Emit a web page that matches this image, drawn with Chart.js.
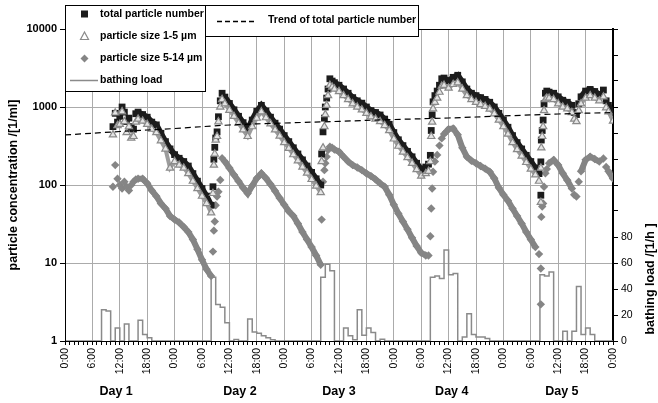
<!DOCTYPE html>
<html>
<head>
<meta charset="utf-8">
<script src="https://cdn.jsdelivr.net/npm/chart.js@4.4.1/dist/chart.umd.min.js"></script>
<style>
  html, body { margin: 0; padding: 0; background: #fff; }
  #wrap { width: 658px; height: 403px; position: relative; }
</style>
</head>
<body>
<div id="wrap"><canvas id="chart"></canvas></div>
<script>
// measurement times in hours from 0:00 of day 1
const hours = [
  10.5, 11, 11.5, 12, 12.5, 13, 13.5, 14, 14.5, 15, 15.5, 16, 17, 18, 19, 20, 21, 22, 23, 24, 25, 26, 27, 28, 29, 30, 31, 32,
  32.4, 32.6, 32.8, 33, 33.3, 33.6, 34, 34.4, 35, 36, 37, 38, 39, 40, 41, 42, 43, 44, 45, 46, 47, 48, 49, 50, 51, 52, 53, 54, 55, 56,
  56.2, 56.5, 56.8, 57, 57.3, 57.6, 58, 58.5, 59, 60, 61, 62, 63, 64, 65, 66, 67, 68, 69, 70, 71, 72, 73, 74, 75, 76, 77, 78, 79,
  79.6, 80, 80.2, 80.4, 80.6, 81, 81.5, 82, 82.5, 83, 84, 85, 86, 87, 88, 89, 90, 91, 92, 93, 94, 95, 96, 97, 98, 99, 100, 101, 102, 103, 103.8,
  104.2, 104.2, 104.3, 104.5, 104.7, 104.9, 105.2, 105.5, 106, 107, 108, 109, 110, 111, 111.5, 112, 112.5, 113, 114, 115, 116, 117, 117.9, 118.5, 119, 120
];
const totalNumber = [
  560, 830, 640, 760, 1000, 860, 650, 720, 560, 520, 820, 860, 800, 740, 640, 590, 460, 360, 290, 245, 220, 200, 175, 140, 112, 90, 72, 55,
  95, 214, 304, 400, 480, 750, 1200, 1500, 1340, 1110, 920, 760, 630, 520, 680, 880, 1050, 890, 740, 620, 520, 430, 360, 300, 250, 210, 175, 145, 120, 100,
  250, 480, 720, 1000, 1300, 1700, 2300, 2150, 2050, 1900, 1700, 1500, 1320, 1200, 1120, 1000, 900, 850, 790, 700, 600, 470, 380, 320, 270, 230, 190, 158, 170,
  185, 240, 500, 794, 1165, 1400, 1600, 1900, 2300, 2350, 2150, 2400, 2550, 2100, 1700, 1500, 1400, 1320, 1250, 1150, 1000, 830, 680, 550, 430, 350, 290, 240, 200, 165, 140,
  74, 198, 377, 500, 680, 1100, 1500, 1600, 1550, 1500, 1350, 1220, 1150, 1050, 850, 800, 1100, 1350, 1600, 1680, 1580, 1450, 1650, 1200, 1050, 800
];
const size1to5 = [
  440, 840, 580, 600, 870, 650, 470, 560, 400, 420, 640, 700, 660, 600, 520, 470, 370, 290, 165, 200, 180, 165, 140, 112, 90, 72, 58, 44,
  78, 180, 250, 377, 420, 648, 1000, 1250, 1100, 910, 760, 620, 510, 420, 560, 720, 870, 730, 610, 510, 425, 350, 295, 245, 205, 170, 142, 118, 97, 80,
  200, 300, 560, 800, 1050, 1400, 1900, 1800, 1700, 1580, 1400, 1250, 1100, 1000, 920, 830, 750, 700, 650, 580, 500, 390, 315, 265, 225, 190, 158, 130, 140,
  150, 200, 420, 640, 950, 1150, 1300, 1550, 1850, 1900, 1750, 1950, 2050, 1700, 1400, 1250, 1150, 1080, 1020, 940, 820, 680, 560, 450, 350, 285, 235, 195, 160, 135, 112,
  60, 165, 300, 420, 560, 900, 1250, 1300, 1300, 1250, 1100, 1000, 950, 850, 700, 650, 900, 1100, 1300, 1400, 1300, 1200, 1350, 980, 870, 660
];
const size5to14 = [
  95, 180, 120, 100, 90, 110, 95, 85, 100, 110, 118, 120, 120, 105, 85, 72, 58, 50, 40, 36, 33, 29, 25, 20, 15, 11, 8.3, 6.8,
  14, 26, 34, 55, 71, 82, 116, 220, 200, 165, 135, 112, 92, 78, 98, 122, 141, 122, 102, 84, 68, 56, 46, 40, 32, 25, 20, 16, 12.5, 9.5,
  36, 110, 155, 190, 230, 280, 310, 300, 285, 267, 230, 200, 180, 168, 155, 141, 130, 118, 105, 95, 75, 56, 43, 34, 27, 21, 16.5, 13.5, 12.5,
  12.5, 22, 50, 90, 148, 200, 243, 320, 396, 450, 520, 530, 440, 300, 230, 205, 190, 175, 162, 148, 122, 92, 75, 63, 50, 40, 32, 25, 20, 16, 13,
  2.95, 8.5, 39, 53, 58, 95, 141, 160, 190, 209, 180, 141, 115, 90, 75, 71, 110, 150, 210, 231, 215, 200, 219, 170, 150, 121
];

// trend of total particle number
const trendHours = [0, 12, 24, 36, 48, 60, 72, 84, 96, 108, 120];
const trendValues = [438, 485, 530, 588, 623, 655, 691, 723, 767, 813, 850];

// bathing load per hour [1/h], one value per hour starting at 0:00 of day 1
const bathingLoad = [
  0, 0, 0, 0, 0, 0, 0, 0, 24, 23, 0, 10, 0, 13, 0, 0, 16, 5, 2.5, 0, 0, 0, 0, 0,
  0, 0, 0, 0, 0, 0, 0, 0, 49, 28, 26, 14, 0, 1.2, 0, 0, 17, 7, 6, 4, 2.5, 1, 0, 0,
  0, 0, 0, 0, 0, 0, 0, 0, 49, 59, 54, 0, 0, 10, 4, 1, 24, 4.5, 10, 6.5, 0, 1.3, 0, 0,
  0, 0, 0, 0, 0, 0, 0, 0, 49, 50, 48, 70, 51, 52, 0, 3, 21, 5, 3, 3, 2, 0, 0, 0,
  0, 0, 0, 0, 0, 0, 0, 0, 51, 50, 53, 0, 0, 7.5, 0, 7.5, 42, 5, 10, 5, 0, 0, 0, 0
];

const concTicks = [1, 10, 100, 1000, 10000];
const loadTicks = [0, 20, 40, 60, 80, 100, 120, 140, 160, 180, 200, 220, 240];
const loadLabels = [0, 20, 40, 60, 80];
const dayLabels = ['Day 1', 'Day 2', 'Day 3', 'Day 4', 'Day 5'];
const dayLabelHours = [11.2, 38.3, 60, 84.7, 108.8];
const concTitle = 'particle concentration /[1/ml]';
const loadTitle = 'bathing load /[1/h ]';
const trendLabel = 'Trend of total particle number';

const FONT = '"Liberation Sans", Arial, sans-serif';
Chart.defaults.font.family = FONT;
Chart.defaults.color = '#000';

const hourTicks = [];
for (let h = 0; h <= 120; h++) hourTicks.push(h);

const pts = arr => hours.map((h, i) => ({ x: h, y: arr[i] }));

// the dense hourly runs read as a solid band, the sparse morning rises stay as single marks
const bandColor = color => ctx => (ctx.p1.parsed.x - ctx.p0.parsed.x > 0.95 ? color : 'rgba(0,0,0,0)');

const loadPoints = bathingLoad.map((v, h) => ({ x: h, y: v }));
loadPoints.push({ x: 120, y: bathingLoad[bathingLoad.length - 1] });

const overlay = {
  id: 'overlay',
  afterDraw(chart) {
    const ctx = chart.ctx;
    const a = chart.chartArea;
    const xs = chart.scales.x;
    ctx.save();

    // frame
    ctx.strokeStyle = '#000';
    ctx.lineWidth = 1;
    ctx.strokeRect(a.left + 0.5, a.top + 0.5, a.right - a.left, a.bottom - a.top);

    // day labels
    ctx.fillStyle = '#000';
    ctx.font = 'bold 12.5px ' + FONT;
    ctx.textAlign = 'center';
    ctx.textBaseline = 'middle';
    dayLabels.forEach((d, i) => ctx.fillText(d, xs.getPixelForValue(dayLabelHours[i]), 392));

    // axis titles
    ctx.save();
    ctx.translate(14, 185);
    ctx.rotate(-Math.PI / 2);
    ctx.fillText(concTitle, 0, 0);
    ctx.restore();
    ctx.save();
    ctx.translate(651, 279);
    ctx.rotate(-Math.PI / 2);
    ctx.fillText(loadTitle, 0, 0);
    ctx.restore();

    // legend boxes
    ctx.fillStyle = '#fff';
    ctx.fillRect(65, 5, 140, 86);
    ctx.fillRect(205, 5, 213, 31);
    ctx.strokeStyle = '#000';
    ctx.lineWidth = 1;
    ctx.strokeRect(65.5, 5.5, 140, 86);
    ctx.strokeRect(205.5, 5.5, 213, 31);

    const ds = chart.data.datasets;
    ctx.font = 'bold 10.5px ' + FONT;
    ctx.textAlign = 'left';

    // square
    ctx.fillStyle = '#1c1c1c';
    ctx.fillRect(81, 10.5, 7, 7);
    // triangle
    ctx.fillStyle = '#fff';
    ctx.strokeStyle = '#8a8a8a';
    ctx.lineWidth = 1.2;
    ctx.beginPath();
    ctx.moveTo(84.5, 32); ctx.lineTo(88.5, 39.5); ctx.lineTo(80.5, 39.5); ctx.closePath();
    ctx.fill(); ctx.stroke();
    // diamond
    ctx.fillStyle = '#858585';
    ctx.beginPath();
    ctx.moveTo(84.5, 54.5); ctx.lineTo(88.5, 58.5); ctx.lineTo(84.5, 62.5); ctx.lineTo(80.5, 58.5); ctx.closePath();
    ctx.fill();
    // line
    ctx.strokeStyle = '#8a8a8a';
    ctx.lineWidth = 1.5;
    ctx.beginPath(); ctx.moveTo(70, 80.5); ctx.lineTo(98, 80.5); ctx.stroke();

    ctx.fillStyle = '#000';
    ctx.fillText(ds[1].label, 100, 14);
    ctx.fillText(ds[0].label, 100, 36.5);
    ctx.fillText(ds[2].label, 100, 58.5);
    ctx.fillText(ds[4].label, 100, 80.5);

    // trend legend
    ctx.strokeStyle = '#000';
    ctx.lineWidth = 1.3;
    ctx.setLineDash([5, 3]);
    ctx.beginPath(); ctx.moveTo(217, 21.5); ctx.lineTo(257, 21.5); ctx.stroke();
    ctx.setLineDash([]);
    ctx.fillText(trendLabel, 268, 20.5);

    ctx.restore();
  }
};

new Chart(document.getElementById('chart'), {
  type: 'scatter',
  data: {
    datasets: [
      {
        label: 'particle size 1-5 µm',
        data: pts(size1to5),
        showLine: true,
        borderWidth: 4,
        segment: { borderColor: bandColor('#9c9c9c') },
        pointStyle: 'triangle',
        pointRadius: 4.2,
        pointBackgroundColor: '#e4e4e4',
        pointBorderColor: '#8a8a8a',
        pointBorderWidth: 1.2,
        yAxisID: 'y',
        order: 1
      },
      {
        label: 'total particle number',
        data: pts(totalNumber),
        showLine: true,
        borderWidth: 6,
        segment: { borderColor: bandColor('#1c1c1c') },
        pointStyle: 'rect',
        pointRadius: 4.8,
        pointBackgroundColor: '#1c1c1c',
        pointBorderColor: '#1c1c1c',
        pointBorderWidth: 0,
        yAxisID: 'y',
        order: 2
      },
      {
        label: 'particle size 5-14 µm',
        data: pts(size5to14),
        showLine: true,
        borderWidth: 6,
        segment: { borderColor: bandColor('#858585') },
        pointStyle: 'rectRot',
        pointRadius: 4.2,
        pointBackgroundColor: '#858585',
        pointBorderColor: '#858585',
        pointBorderWidth: 0,
        yAxisID: 'y',
        order: 3
      },
      {
        type: 'line',
        label: trendLabel,
        data: trendHours.map((h, i) => ({ x: h, y: trendValues[i] })),
        borderColor: '#000',
        borderWidth: 1.2,
        borderDash: [6, 4],
        pointRadius: 0,
        tension: 0.4,
        fill: false,
        yAxisID: 'y',
        order: 0
      },
      {
        type: 'line',
        label: 'bathing load',
        data: loadPoints,
        borderColor: '#8a8a8a',
        borderWidth: 1.5,
        stepped: true,
        pointRadius: 0,
        fill: false,
        yAxisID: 'y2',
        order: 4
      }
    ]
  },
  options: {
    responsive: true,
    maintainAspectRatio: false,
    animation: false,
    layout: { padding: { top: 29, left: 0, right: 0, bottom: 0 } },
    plugins: { legend: { display: false }, tooltip: { enabled: false } },
    scales: {
      x: {
        type: 'linear',
        min: 0,
        max: 120,
        afterBuildTicks: s => { s.ticks = hourTicks.map(v => ({ value: v })); },
        afterFit: s => { s.height = 62; },
        ticks: {
          autoSkip: false,
          minRotation: 90,
          maxRotation: 90,
          padding: 3,
          color: '#000',
          font: { size: 10.5 },
          callback: v => (v % 6 === 0 ? (v % 24) + ':00' : '')
        },
        grid: {
          color: c => (c.tick && c.tick.value % 6 === 0 ? '#ababab' : 'rgba(0,0,0,0)'),
          tickColor: '#000',
          tickLength: 4,
          lineWidth: 1
        },
        border: { color: '#000', width: 1 }
      },
      y: {
        type: 'logarithmic',
        position: 'left',
        min: 1,
        max: 10000,
        afterBuildTicks: s => { s.ticks = concTicks.map(v => ({ value: v })); },
        afterFit: s => { s.width = 65; },
        ticks: {
          callback: v => String(v),
          color: '#000',
          padding: 3,
          font: { size: 11, weight: 'bold' }
        },
        grid: { color: '#ababab', tickColor: '#000', tickLength: 5 },
        border: { color: '#000', width: 1 }
      },
      y2: {
        type: 'linear',
        position: 'right',
        min: 0,
        max: 240,
        afterBuildTicks: s => { s.ticks = loadTicks.map(v => ({ value: v })); },
        afterFit: s => { s.width = 45; },
        ticks: {
          callback: v => (loadLabels.includes(v) ? String(v) : ''),
          color: '#000',
          padding: 3,
          font: { size: 10.5 }
        },
        grid: { drawOnChartArea: false, tickColor: '#000', tickLength: 5 },
        border: { color: '#000', width: 2 }
      }
    }
  },
  plugins: [overlay]
});
</script>
</body>
</html>
